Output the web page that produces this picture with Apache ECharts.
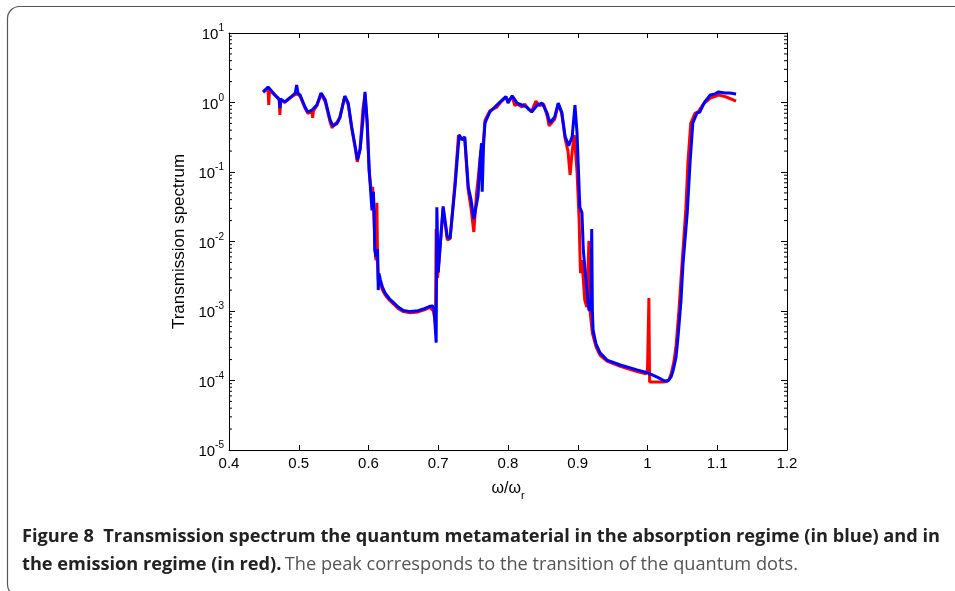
<!DOCTYPE html>
<html>
<head>
<meta charset="utf-8">
<script src="https://cdn.jsdelivr.net/npm/echarts@6/dist/echarts.min.js"></script>
<style>
  html, body { margin: 0; padding: 0; background: #fff; }
  #chart { width: 955px; height: 591px; }
</style>
</head>
<body>
<div id="chart"></div>
<script>
// absorption regime (blue)
var blueX = [0.449, 0.456, 0.466, 0.472, 0.473, 0.474, 0.480, 0.487, 0.495, 0.497, 0.499, 0.502, 0.509, 0.513, 0.519, 0.526,
  0.532, 0.538, 0.545, 0.549, 0.555, 0.559, 0.566, 0.571, 0.576, 0.581, 0.584, 0.588, 0.592, 0.595, 0.598, 0.601,
  0.605, 0.607, 0.608, 0.609, 0.611, 0.613, 0.614, 0.615, 0.617, 0.620, 0.624, 0.630, 0.636, 0.642, 0.650, 0.660,
  0.671, 0.680, 0.688, 0.692, 0.694, 0.697,
  0.698, 0.700, 0.707, 0.713, 0.717, 0.724, 0.730, 0.734, 0.738, 0.743, 0.747, 0.751, 0.757, 0.760, 0.762, 0.763,
  0.765, 0.767, 0.774, 0.784, 0.793, 0.797, 0.800, 0.806, 0.813, 0.820, 0.827, 0.834, 0.842, 0.849, 0.856, 0.860,
  0.867, 0.872, 0.877, 0.882, 0.887, 0.892, 0.896, 0.899, 0.903, 0.906, 0.908, 0.913, 0.916, 0.919, 0.920, 0.921,
  0.922, 0.926, 0.932, 0.942, 0.961, 0.985, 1.001, 1.014, 1.020, 1.025, 1.030, 1.034, 1.037, 1.041, 1.044, 1.048,
  1.051, 1.057, 1.061, 1.065, 1.071, 1.075, 1.082, 1.090, 1.097, 1.102, 1.111, 1.118, 1.127];
var blueY = [1.42, 1.67, 1.28, 1.12, 0.83, 1.12, 1.02, 1.16, 1.37, 1.79, 1.35, 1.28, 0.86, 0.73, 0.78, 0.92,
  1.37, 1.09, 0.56, 0.46, 0.50, 0.60, 1.24, 0.98, 0.44, 0.23, 0.149, 0.21, 0.56, 1.42, 0.56, 0.107,
  0.028, 0.052, 0.028, 0.0075, 0.0060, 0.0078, 0.0020, 0.0035, 0.0028, 0.0022, 0.0018, 0.00150, 0.00132, 0.00115, 0.00102, 0.00098,
  0.00101, 0.00108, 0.00117, 0.00118, 0.00108, 0.00035,
  0.031, 0.0036, 0.032, 0.0116, 0.0112, 0.061, 0.34, 0.29, 0.32, 0.061, 0.040, 0.021, 0.045, 0.15, 0.26, 0.052,
  0.25, 0.51, 0.73, 0.92, 1.12, 1.22, 0.98, 1.25, 0.98, 0.92, 0.86, 0.73, 0.92, 0.98, 0.71, 0.51,
  0.62, 0.98, 0.73, 0.32, 0.24, 0.32, 0.92, 0.36, 0.031, 0.026, 0.0075, 0.0020, 0.00103, 0.00103, 0.0151, 0.00103,
  0.00053, 0.00034, 0.00025, 0.000197, 0.000167, 0.000142, 0.000128, 0.000112, 0.000104, 0.0000984, 0.000100, 0.000114, 0.000142, 0.00022, 0.00045, 0.0014,
  0.0049, 0.026, 0.135, 0.51, 0.71, 0.73, 1.02, 1.28, 1.33, 1.42, 1.37, 1.37, 1.33];

// emission regime (red)
var redX = [0.449, 0.456, 0.457, 0.458, 0.466, 0.472, 0.473, 0.474, 0.480, 0.487, 0.495, 0.499, 0.502, 0.509, 0.513, 0.519,
  0.520, 0.521, 0.526, 0.532, 0.538, 0.545, 0.548, 0.549, 0.555, 0.559, 0.566, 0.571, 0.576, 0.581, 0.584, 0.588,
  0.592, 0.595, 0.598, 0.601, 0.604, 0.606, 0.608, 0.610, 0.611, 0.612, 0.613, 0.614, 0.617, 0.620, 0.624, 0.630,
  0.636, 0.642, 0.650, 0.660, 0.671, 0.680, 0.688, 0.693, 0.696, 0.697, 0.699, 0.707, 0.713, 0.717, 0.724, 0.729,
  0.734, 0.738, 0.743, 0.747, 0.751,
  0.755, 0.758, 0.761, 0.764, 0.767, 0.774, 0.784, 0.790, 0.797, 0.800, 0.806, 0.810, 0.813, 0.820, 0.824, 0.829,
  0.834, 0.840, 0.845, 0.851, 0.856, 0.859, 0.867, 0.872, 0.877, 0.882, 0.886, 0.889, 0.892, 0.895, 0.899, 0.902,
  0.903, 0.904, 0.906, 0.910, 0.913, 0.915, 0.916, 0.917, 0.921, 0.926, 0.932, 0.942, 0.961, 0.985, 0.998, 1.000,
  1.002, 1.003, 1.014, 1.022, 1.028, 1.031, 1.034, 1.038, 1.041, 1.045, 1.049, 1.055, 1.058, 1.062, 1.068, 1.073,
  1.080, 1.090, 1.102, 1.113, 1.127];
var redY = [1.40, 1.60, 0.92, 1.50, 1.26, 1.10, 0.66, 1.10, 1.00, 1.16, 1.30, 1.32, 1.22, 0.83, 0.70, 0.74,
  0.60, 0.76, 0.90, 1.33, 1.02, 0.52, 0.43, 0.46, 0.52, 0.62, 1.22, 0.92, 0.42, 0.22, 0.14, 0.22,
  0.80, 1.30, 0.50, 0.10, 0.052, 0.061, 0.020, 0.0060, 0.0054, 0.036, 0.0054, 0.0028, 0.0025, 0.0020, 0.0017, 0.00143,
  0.00126, 0.00110, 0.00098, 0.00094, 0.00097, 0.00104, 0.00113, 0.00100, 0.00067, 0.0151, 0.0030, 0.030, 0.0105, 0.0110, 0.070, 0.34,
  0.30, 0.30, 0.055, 0.030, 0.0137,
  0.050, 0.097, 0.20, 0.22, 0.55, 0.76, 0.86, 1.02, 1.20, 1.05, 1.20, 0.90, 0.95, 0.86, 0.95, 0.80,
  0.75, 1.05, 0.90, 0.95, 0.65, 0.46, 0.58, 0.95, 0.70, 0.30, 0.20, 0.091, 0.20, 0.34, 0.10, 0.020,
  0.0075, 0.0035, 0.0054, 0.00144, 0.00114, 0.00110, 0.0102, 0.00114, 0.00048, 0.00031, 0.00023, 0.00019, 0.000160, 0.000135, 0.000125, 0.000145,
  0.00154, 0.0000951, 0.0000951, 0.0000951, 0.0000970, 0.000104, 0.000125, 0.00019, 0.00032, 0.0010, 0.0040, 0.030, 0.14, 0.50, 0.70, 0.74,
  0.95, 1.16, 1.28, 1.20, 1.05];

var xMin = 0.4, xMax = 1.2, xStep = 0.1;
var yMin = 1e-5, yMax = 10;
var minorMantissas = [2, 3, 4, 5, 6, 7, 8, 9];
var minorDecades = [-5, -4, -3, -2, -1, 0];

function zip(xs, ys) {
  var out = [];
  for (var i = 0; i < xs.length; i++) out.push([xs[i], ys[i]]);
  return out;
}

var minorData = [];
minorDecades.forEach(function (d) {
  minorMantissas.forEach(function (m) {
    minorData.push([xMin, m * Math.pow(10, d)]);
  });
});

var tickFont = 'Liberation Sans, Arial, sans-serif';
var captionFont = 'Open Sans, Noto Sans, sans-serif';

var myChart = echarts.init(document.getElementById('chart'));

var option = {
  backgroundColor: '#fff',
  animation: false,
  grid: { left: 229, right: 168, top: 33, bottom: 141 },
  xAxis: [{
    type: 'value', min: xMin, max: xMax, interval: xStep, position: 'bottom',
    axisLine: { show: true, lineStyle: { color: '#000', width: 1 } },
    axisTick: { show: true, inside: true, length: 5, lineStyle: { color: '#000' } },
    axisLabel: { color: '#000', fontSize: 15, fontFamily: tickFont, margin: 6 },
    splitLine: { show: false },
    name: '{a|ω/ω}{s|r}', nameLocation: 'middle', nameGap: 31,
    nameTextStyle: {
      rich: {
        a: { fontSize: 16, fontFamily: tickFont, color: '#000', verticalAlign: 'top' },
        s: { fontSize: 11, fontFamily: tickFont, color: '#000', verticalAlign: 'top', padding: [9, 0, 0, 0] }
      }
    }
  }, {
    type: 'value', min: xMin, max: xMax, interval: xStep, position: 'top',
    axisLine: { show: true, lineStyle: { color: '#000', width: 1 } },
    axisTick: { show: true, inside: true, length: 5, lineStyle: { color: '#000' } },
    axisLabel: { show: false },
    splitLine: { show: false }
  }],
  yAxis: [{
    type: 'log', logBase: 10, min: yMin, max: yMax, position: 'left',
    axisLine: { show: true, lineStyle: { color: '#000', width: 1 } },
    axisTick: { show: true, inside: true, length: 6, lineStyle: { color: '#000' } },
    axisLabel: {
      margin: 5,
      formatter: function (v) {
        var e = Math.round(Math.log(v) / Math.LN10);
        return '{b|10}{e|' + e + '}';
      },
      rich: {
        b: { fontSize: 15, fontFamily: tickFont, color: '#000', verticalAlign: 'bottom' },
        e: { fontSize: 10, fontFamily: tickFont, color: '#000', verticalAlign: 'bottom', padding: [0, 0, 9, 0] }
      }
    },
    splitLine: { show: false },
    name: 'Transmission spectrum', nameLocation: 'middle', nameGap: 38,
    nameTextStyle: { fontSize: 17, fontFamily: tickFont, color: '#000' }
  }, {
    type: 'log', logBase: 10, min: yMin, max: yMax, position: 'right',
    axisLine: { show: true, lineStyle: { color: '#000', width: 1 } },
    axisTick: { show: true, inside: true, length: 6, lineStyle: { color: '#000' } },
    axisLabel: { show: false },
    splitLine: { show: false }
  }],
  series: [{
    name: 'minor ticks', type: 'custom', xAxisIndex: 0, yAxisIndex: 0, silent: true, z: 4,
    data: minorData,
    renderItem: function (params, api) {
      var v = api.value(1);
      var l = api.coord([xMin, v]);
      var r = api.coord([xMax, v]);
      return {
        type: 'group',
        children: [
          { type: 'line', shape: { x1: l[0], y1: l[1], x2: l[0] + 3, y2: l[1] }, style: { stroke: '#000', lineWidth: 1 } },
          { type: 'line', shape: { x1: r[0], y1: r[1], x2: r[0] - 3, y2: r[1] }, style: { stroke: '#000', lineWidth: 1 } }
        ]
      };
    }
  }, {
    name: 'emission', type: 'line', xAxisIndex: 0, yAxisIndex: 0,
    data: zip(redX, redY), showSymbol: false, symbol: 'none', z: 2,
    lineStyle: { color: '#ff0000', width: 3 }
  }, {
    name: 'absorption', type: 'line', xAxisIndex: 0, yAxisIndex: 0,
    data: zip(blueX, blueY), showSymbol: false, symbol: 'none', z: 3,
    lineStyle: { color: '#0000ff', width: 3 }
  }],
  graphic: [{
    type: 'rect', z: -1, silent: true,
    shape: { x: 7.5, y: 6.5, width: 1000, height: 590, r: 12 },
    style: { fill: 'none', stroke: '#555', lineWidth: 1.2 }
  }, {
    type: 'text', left: 22, top: 528,
    style: {
      text: 'Figure 8  Transmission spectrum the quantum metamaterial in the absorption regime (in blue) and in',
      font: 'bold 18.2px ' + captionFont, fill: '#222'
    }
  }, {
    type: 'text', left: 22, top: 556,
    style: {
      text: '{b|the emission regime (in red).} {r|The peak corresponds to the transition of the quantum dots.}',
      rich: {
        b: { font: 'bold 18.2px ' + captionFont, fill: '#222' },
        r: { font: '18.2px ' + captionFont, fill: '#555' }
      }
    }
  }]
};

myChart.setOption(option);
</script>
</body>
</html>
